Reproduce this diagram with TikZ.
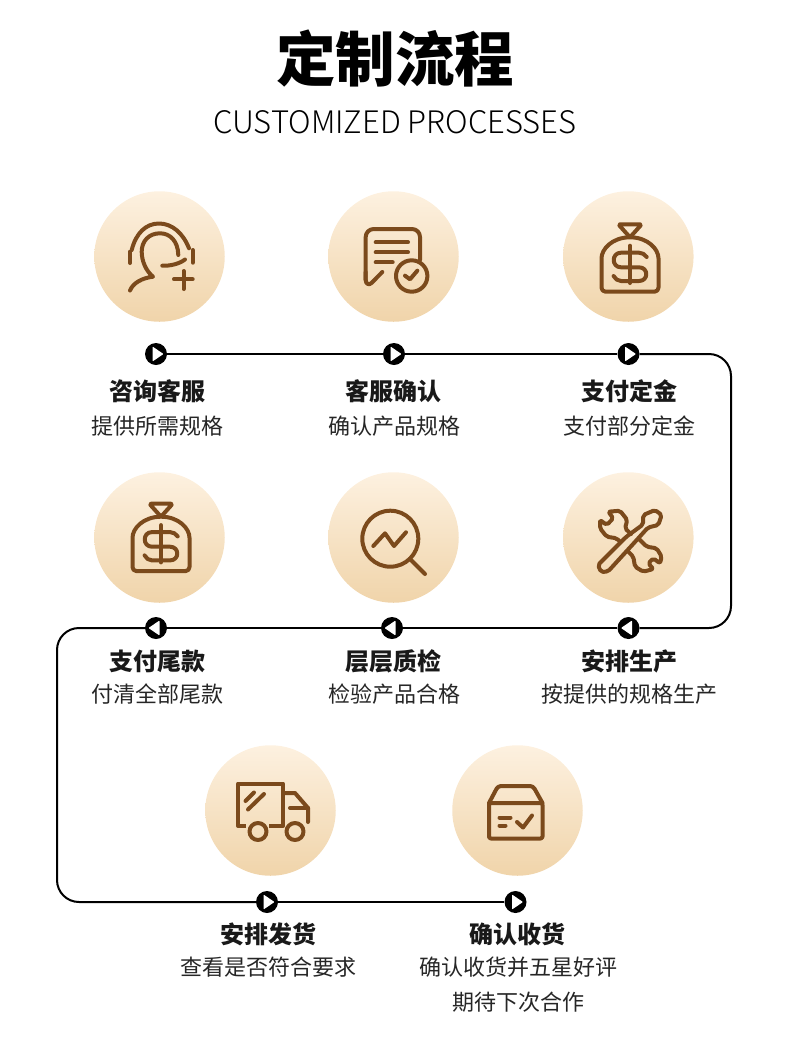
\documentclass[tikz,border=0pt]{standalone}
\usepackage{fontspec}
\setmainfont{Noto Sans CJK SC}
\newfontfamily\latinlight{Noto Sans CJK SC Light}
\usetikzlibrary{arrows}

\definecolor{iconbrown}{HTML}{7B4A1C}
\definecolor{discTop}{HTML}{FDF1E0}
\definecolor{discBottom}{HTML}{F0D4AA}

\tikzset{
    disc/.style={circle,minimum size=130.5pt,inner sep=0pt,top color=discTop,bottom color=discBottom},
    iconline/.style={draw=iconbrown,line width=4pt,line cap=round,line join=round},
    flowline/.style={draw=black,line width=2pt},
    stopright/.style={circle,fill=black,minimum size=22pt,inner sep=0pt,path picture={
        \fill[white,rounded corners=0.8pt] ([xshift=-3.5pt,yshift=7.5pt]path picture bounding box.center)
            -- ([xshift=7.5pt]path picture bounding box.center)
            -- ([xshift=-3.5pt,yshift=-7.5pt]path picture bounding box.center) -- cycle;}},
    stopleft/.style={circle,fill=black,minimum size=22pt,inner sep=0pt,path picture={
        \fill[white,rounded corners=0.8pt] ([xshift=3.5pt,yshift=7.5pt]path picture bounding box.center)
            -- ([xshift=-7.5pt]path picture bounding box.center)
            -- ([xshift=3.5pt,yshift=-7.5pt]path picture bounding box.center) -- cycle;}},
    headlabel/.style={font=\fontsize{24}{24}\selectfont\bfseries,text=black!90},
    sublabel/.style={font=\fontsize{22}{22}\selectfont,text=black!85},
    bagicon/.pic={
        \draw[iconline,rounded corners=2pt] (0,0) -- (-11.7,-13) -- (11.7,-13) -- cycle;
        \draw[iconline,rounded corners=4pt] (0,0) .. controls (-18,0) and (-28.5,12) .. (-28.5,25) -- (-28.5,54.4) -- (28.5,54.4) -- (28.5,25) .. controls (28.5,12) and (18,0) .. (0,0);
        \draw[iconline] (0,8.4) -- (0,45.7);
        \draw[iconline] (16.7,19.7) .. controls (15,17) and (12,15.4) .. (9,15.4) -- (-9,15.4)
            .. controls (-18.7,15.4) and (-18.7,30) .. (-9,30) -- (9,30)
            .. controls (18.7,30) and (18.7,43.7) .. (9,43.7) -- (-9,43.7)
            .. controls (-12,43.7) and (-15,41.7) .. (-16.4,38.7);
    }
}

\begin{document}
\begin{tikzpicture}[x=1pt,y=-1pt,>=stealth']
    \useasboundingbox (0,0) rectangle (790,1045);

    % Title
    \node (title) at (395,59) {\fontsize{59.5}{59.5}\selectfont\bfseries 定制流程};
    \node (subtitle) at (395,122) {\fontsize{31}{31}\selectfont\latinlight CUSTOMIZED PROCESSES};

    % Discs
    \node[disc] (discconsult) at (159.5,256.5) {};
    \node[disc] (disccheck) at (393.5,256.5) {};
    \node[disc] (discdeposit) at (628.3,256.5) {};
    \node[disc] (discbalance) at (159.5,537.5) {};
    \node[disc] (discinspect) at (393.5,537.5) {};
    \node[disc] (discmake) at (628.3,537.5) {};
    \node[disc] (discship) at (270.5,810.5) {};
    \node[disc] (discreceive) at (517.5,810.5) {};

    % Stops on the line
    \node[stopright] (stopconsult) at (156,354) {};
    \node[stopright] (stopcheck) at (394,354) {};
    \node[stopright] (stopdeposit) at (628.5,354) {};
    \node[stopleft] (stopmake) at (628.5,628) {};
    \node[stopleft] (stopinspect) at (392,628) {};
    \node[stopleft] (stopbalance) at (156,628) {};
    \node[stopright] (stopship) at (267,902) {};
    \node[stopright] (stopreceive) at (515.5,902) {};

    % Corners of the line
    \coordinate (cornera) at (731,354);
    \coordinate (cornerb) at (731,628);
    \coordinate (cornerc) at (57,628);
    \coordinate (cornerd) at (57,902);

    % Line
    \draw[flowline] (stopconsult) -- (stopcheck);
    \draw[flowline] (stopcheck) -- (stopdeposit);
    \draw[flowline,rounded corners=22pt] (stopdeposit) -- (cornera) -- (cornerb) -- (stopmake);
    \draw[flowline] (stopmake) -- (stopinspect);
    \draw[flowline] (stopinspect) -- (stopbalance);
    \draw[flowline,rounded corners=22pt] (stopbalance) -- (cornerc) -- (cornerd) -- (stopship);
    \draw[flowline] (stopship) -- (stopreceive);

    % Labels
    \node[headlabel] (headconsult) at (157,391) {咨询客服};
    \node[sublabel] (subconsult) at (157,426) {提供所需规格};
    \node[headlabel] (headcheck) at (393.5,391) {客服确认};
    \node[sublabel] (subcheck) at (394,426) {确认产品规格};
    \node[headlabel] (headdeposit) at (629,391) {支付定金};
    \node[sublabel] (subdeposit) at (629,426) {支付部分定金};
    \node[headlabel] (headbalance) at (157,661) {支付尾款};
    \node[sublabel] (subbalance) at (157.5,694) {付清全部尾款};
    \node[headlabel] (headinspect) at (393.5,661) {层层质检};
    \node[sublabel] (subinspect) at (394,694) {检验产品合格};
    \node[headlabel] (headmake) at (629,661) {安排生产};
    \node[sublabel] (submake) at (629,694) {按提供的规格生产};
    \node[headlabel] (headship) at (268,934) {安排发货};
    \node[sublabel] (subship) at (268,967) {查看是否符合要求};
    \node[headlabel] (headreceive) at (517.5,934) {确认收货};
    \node[sublabel] (subreceive) at (518,967) {确认收货并五星好评};
    \node[sublabel] (subreceivetwo) at (518,1002) {期待下次合作};

    % Headset icon
    \draw[iconline] (130,251.7) -- (130,263);
    \draw[iconline] (192.7,250) -- (192.7,262.7);
    \draw[iconline] (131.7,250) .. controls (136,233) and (146,223.5) .. (159,223.5) .. controls (172,223.5) and (183,233) .. (189,248.3);
    \draw[iconline] (178.3,255) .. controls (178,241) and (170,233.3) .. (160,233.3) .. controls (149,233.3) and (141.7,241) .. (141.7,251.7) .. controls (141.7,261) and (146,271) .. (153,276.7) .. controls (142,278) and (133,283) .. (130,290.5);
    \draw[iconline] (162.3,265.7) .. controls (170,266) and (179,264) .. (185,259.5);
    \draw[iconline] (174,279.3) -- (192.7,279.3);
    \draw[iconline] (183.5,271) -- (183.5,289);

    % Form icon
    \draw[iconline,rounded corners=8pt] (420,260) -- (420,229) -- (365.7,229) -- (365.7,280);
    \draw[iconline] (365.7,272) -- (365.7,280) .. controls (365.7,284) and (369,285.5) .. (371.5,283) -- (382.3,272);
    \draw[iconline] (375.7,242.3) -- (408,242.3);
    \draw[iconline] (375.7,252.3) -- (408,252.3);
    \draw[iconline] (375.7,262.3) -- (392.7,262.3);
    \draw[iconline] (411.7,276) circle (15.7);
    \draw[iconline] (405,275.7) -- (410,279.3) -- (417.3,270.7);

    % Money bag icons
    \pic at (630,237.3) {bagicon};
    \pic at (161,516.7) {bagicon};

    % Magnifier icon
    \draw[iconline] (390.3,538.7) circle (28);
    \draw[iconline] (410,559) -- (425,574);
    \draw[iconline] (373.3,546) -- (385,533.3) -- (394,546) -- (406,532.3);

    % Tools icon
    \draw[iconline,rounded corners=2pt] (631,534) -- (625,528.3) -- (627.3,520) -- (620,510.7) -- (608.3,511.7) -- (613.3,518.3) -- (606.7,525) -- (600,520) -- (600,528.3) -- (606.7,536.7) -- (616.7,538.3) -- (620.2,541.8);
    \draw[iconline,rounded corners=2pt] (639,539) -- (646.7,546.7) -- (656.7,548.3) -- (661.7,556.7) -- (660,563.3) -- (653.3,558.3) -- (648.3,563.3) -- (653.3,569) -- (643.3,571.7) -- (635,566.7) -- (633.3,556.7) -- (628,551.4);
    \draw[iconline,rounded corners=2pt] (643,524.5) -- (643.3,515) -- (655,510) -- (661.7,515) -- (658.3,525) -- (648,527.5) -- (634,543) -- (608,571.5) -- (601,572) -- (598,565) -- (626,537) -- cycle;

    % Truck icon
    \draw[iconline,line cap=butt] (246,826) -- (238,826) -- (238,783.5) -- (283,783.5) -- (283,826) -- (269,826);
    \draw[iconline] (283,793) -- (295,793) -- (308,808) -- (308,822);
    \draw[iconline] (290,808) -- (308,808);
    \draw[iconline] (245.5,801) -- (254,792.5);
    \draw[iconline] (248,809.5) -- (264,794);
    \draw[iconline] (258,831.5) circle (8.5);
    \draw[iconline] (295,831.5) circle (8.5);

    % Parcel icon
    \draw[iconline,rounded corners=2pt] (489,803) -- (489,838.5) -- (542.5,838.5) -- (542.5,803) -- cycle;
    \draw[iconline,rounded corners=3pt] (489,803) -- (498,786) -- (533,786) -- (542.5,803);
    \draw[iconline] (499.5,817.5) -- (510.5,817.5);
    \draw[iconline] (499.5,825.5) -- (505.5,825.5);
    \draw[iconline] (517,822) -- (523,827.5) -- (532,815.5);
\end{tikzpicture}
\end{document}
